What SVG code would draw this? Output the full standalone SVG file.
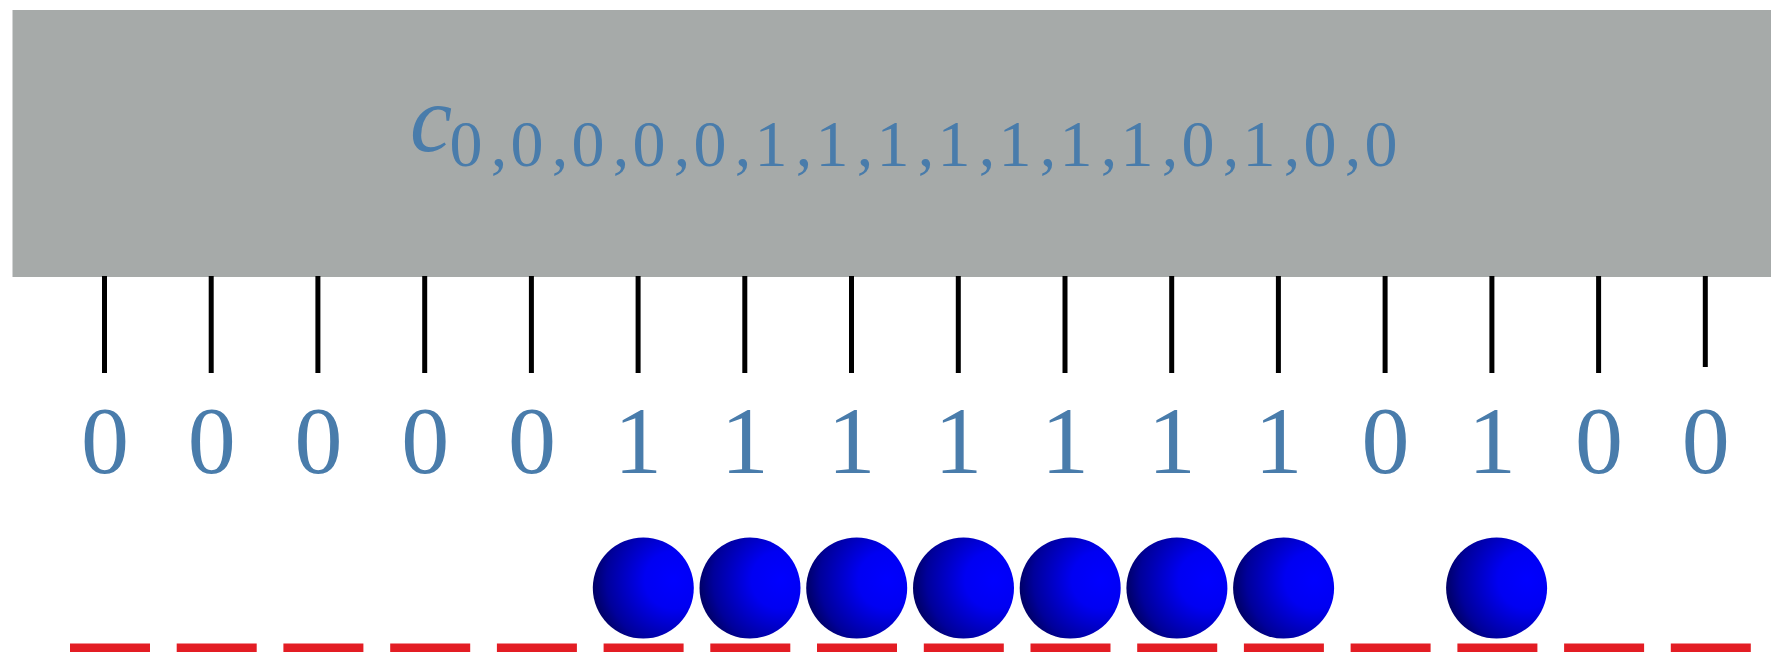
<svg xmlns="http://www.w3.org/2000/svg" width="1771" height="652" viewBox="0 0 1771 652">
  <style>
    .lbl { font-family: "Liberation Serif", "Times New Roman", serif; fill: #497cab; }
    .bit { font-size: 96px; text-anchor: middle; }
    .sub { font-size: 66px; text-anchor: middle; }
    .tick { stroke: #000; stroke-width: 5; }
    .dash { fill: #e31d24; }
    .ball { fill: url(#ballShade); }
  </style>
  <defs>
    <radialGradient id="ballShade" cx="0.8" cy="0.42" r="0.95" fx="0.8" fy="0.42">
      <stop offset="0" stop-color="#0000ff"/>
      <stop offset="0.3" stop-color="#0000f2"/>
      <stop offset="0.7" stop-color="#00009a"/>
      <stop offset="1" stop-color="#00002e"/>
    </radialGradient>
  </defs>

  <!-- register box with its label -->
  <g id="register">
    <rect x="12.5" y="10" width="1758.5" height="267" fill="#a6aaa9"/>
    <text class="lbl" x="410" y="151" font-size="95" font-style="italic">c</text>
    <text class="lbl sub" y="166"
      x="466 499 527 560 588 621 649 682 710 743 771 804 832 865 893 926 954 987 1015 1048 1076 1109 1137 1170 1198 1231 1259 1292 1320 1353 1381">0,0,0,0,0,1,1,1,1,1,1,1,0,1,0,0</text>
  </g>

  <!-- wires from the box down to each bit -->
  <g id="connectors">
    <line class="tick" x1="104.5" y1="276" x2="104.5" y2="373"/>
    <line class="tick" x1="211.2" y1="276" x2="211.2" y2="373"/>
    <line class="tick" x1="317.9" y1="276" x2="317.9" y2="373"/>
    <line class="tick" x1="424.7" y1="276" x2="424.7" y2="373"/>
    <line class="tick" x1="531.4" y1="276" x2="531.4" y2="373"/>
    <line class="tick" x1="638.1" y1="276" x2="638.1" y2="373"/>
    <line class="tick" x1="744.8" y1="276" x2="744.8" y2="373"/>
    <line class="tick" x1="851.5" y1="276" x2="851.5" y2="373"/>
    <line class="tick" x1="958.3" y1="276" x2="958.3" y2="373"/>
    <line class="tick" x1="1065" y1="276" x2="1065" y2="373"/>
    <line class="tick" x1="1171.7" y1="276" x2="1171.7" y2="373"/>
    <line class="tick" x1="1278.4" y1="276" x2="1278.4" y2="373"/>
    <line class="tick" x1="1385.1" y1="276" x2="1385.1" y2="373"/>
    <line class="tick" x1="1491.9" y1="276" x2="1491.9" y2="373"/>
    <line class="tick" x1="1598.6" y1="276" x2="1598.6" y2="373"/>
    <line class="tick" x1="1705.3" y1="276" x2="1705.3" y2="367"/>
  </g>

  <!-- bit values -->
  <g id="bits" class="lbl bit">
    <text x="105" y="473">0</text>
    <text x="211.7" y="473">0</text>
    <text x="318.4" y="473">0</text>
    <text x="425.2" y="473">0</text>
    <text x="531.9" y="473">0</text>
    <text x="638.1" y="473">1</text>
    <text x="744.8" y="473">1</text>
    <text x="851.5" y="473">1</text>
    <text x="958.3" y="473">1</text>
    <text x="1065" y="473">1</text>
    <text x="1171.7" y="473">1</text>
    <text x="1278.4" y="473">1</text>
    <text x="1385.6" y="473">0</text>
    <text x="1491.9" y="473">1</text>
    <text x="1599.1" y="473">0</text>
    <text x="1705.8" y="473">0</text>
  </g>

  <!-- occupied sites -->
  <g id="particles">
    <circle class="ball" cx="643.3" cy="588" r="50.5"/>
    <circle class="ball" cx="750" cy="588" r="50.5"/>
    <circle class="ball" cx="856.7" cy="588" r="50.5"/>
    <circle class="ball" cx="963.5" cy="588" r="50.5"/>
    <circle class="ball" cx="1070.2" cy="588" r="50.5"/>
    <circle class="ball" cx="1176.9" cy="588" r="50.5"/>
    <circle class="ball" cx="1283.6" cy="588" r="50.5"/>
    <circle class="ball" cx="1496.6" cy="588" r="50.5"/>
  </g>

  <!-- lattice sites -->
  <g id="sites">
    <rect class="dash" x="70" y="643.5" width="80" height="9"/>
    <rect class="dash" x="176.7" y="643.5" width="80" height="9"/>
    <rect class="dash" x="283.4" y="643.5" width="80" height="9"/>
    <rect class="dash" x="390.2" y="643.5" width="80" height="9"/>
    <rect class="dash" x="496.9" y="643.5" width="80" height="9"/>
    <rect class="dash" x="603.6" y="643.5" width="80" height="9"/>
    <rect class="dash" x="710.3" y="643.5" width="80" height="9"/>
    <rect class="dash" x="817" y="643.5" width="80" height="9"/>
    <rect class="dash" x="923.8" y="643.5" width="80" height="9"/>
    <rect class="dash" x="1030.5" y="643.5" width="80" height="9"/>
    <rect class="dash" x="1137.2" y="643.5" width="80" height="9"/>
    <rect class="dash" x="1243.9" y="643.5" width="80" height="9"/>
    <rect class="dash" x="1350.6" y="643.5" width="80" height="9"/>
    <rect class="dash" x="1457.4" y="643.5" width="80" height="9"/>
    <rect class="dash" x="1564.1" y="643.5" width="80" height="9"/>
    <rect class="dash" x="1670.8" y="643.5" width="80" height="9"/>
  </g>
</svg>
